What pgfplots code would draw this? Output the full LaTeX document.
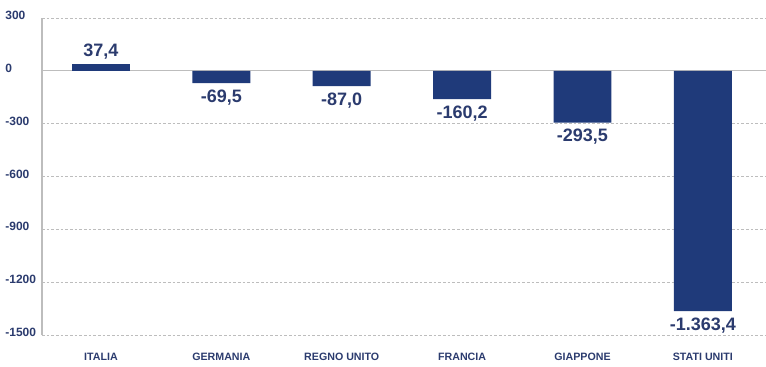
\documentclass[border=0pt]{standalone}
\usepackage{pgfplots}
\pgfplotsset{compat=1.18}
\usepackage{pgfplotstable}
\usepackage{fontspec}
\setmainfont{Liberation Sans}
\definecolor{navy}{HTML}{1F3A7A}
\definecolor{txt}{HTML}{2B3B6E}
\definecolor{grd}{HTML}{BDBDBD}
\pgfplotstableread{
x y label
0 37.4 {37,4}
}\pos
\pgfplotstableread{
x y label
1 -69.5 {-69,5}
2 -87.0 {-87,0}
3 -160.2 {-160,2}
4 -293.5 {-293,5}
5 -1363.4 {-1.363,4}
}\neg
\begin{document}
\begin{tikzpicture}
\begin{axis}[
  scale only axis,
  width=543pt, height=238pt,
  xmin=-0.49, xmax=5.52,
  ymin=-1500, ymax=300,
  axis x line=none,
  axis y line*=left,
  y axis line style={draw=grd, line width=0.8pt},
  ytick={-1500,-1200,-900,-600,-300,0,300},
  yticklabels={-1500,-1200,-900,-600,-300,0,300},
  major tick length=0pt,
  yticklabel style={anchor=west, xshift=-31pt, yshift=2pt, font=\bfseries\fontsize{9}{10}\selectfont, text=txt},
  ymajorgrids,
  grid style={draw=grd, dash pattern=on 2pt off 1.5pt, line width=0.6pt},
  clip=false,
  ybar, bar width=43.5pt,
  point meta=explicit symbolic,
  nodes near coords,
  nodes near coords style={font=\bfseries\fontsize{13.5}{14}\selectfont, text=txt},
]
\draw[grd, line width=0.8pt] (axis cs:-0.49,0) -- (axis cs:5.52,0);
\addplot[fill=navy, draw=none, bar shift=0pt, nodes near coords style={anchor=south}] table[x=x, y=y, meta=label] {\pos};
\addplot[fill=navy, draw=none, bar shift=0pt, nodes near coords style={anchor=north, yshift=-1.5pt}] table[x=x, y=y, meta=label] {\neg};
\foreach \i/\n in {0/ITALIA,1/GERMANIA,2/REGNO UNITO,3/FRANCIA,4/GIAPPONE,5/STATI UNITI}{
  \edef\tmp{\noexpand\node[font=\noexpand\bfseries\noexpand\fontsize{8}{9}\noexpand\selectfont, text=txt] at (axis cs:\i,-1500) [yshift=-16.5pt] {\n};}
  \tmp
}
\end{axis}
\path (-31.5pt,-23.5pt) rectangle (543pt,251.5pt);
\end{tikzpicture}
\end{document}
